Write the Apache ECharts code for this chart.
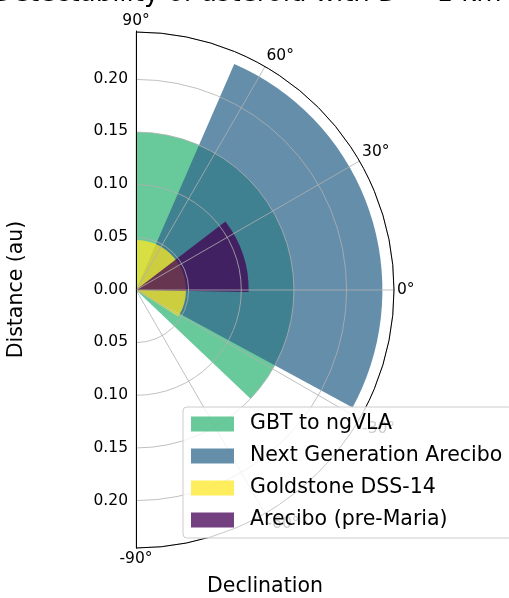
<!DOCTYPE html>
<html>
<head>
<meta charset="utf-8">
<script src="https://cdn.jsdelivr.net/npm/echarts@6/dist/echarts.min.js"></script>
<style>
  html, body { margin: 0; padding: 0; background: #fff; }
  #main { width: 509px; height: 598px; }
</style>
</head>
<body>
<div id="main"></div>
<script>
// telescopes, in the order they are drawn (later ones on top)
const names = ['GBT to ngVLA', 'Next Generation Arecibo', 'Goldstone DSS-14', 'Arecibo (pre-Maria)']
// detection distance for D ~ 1 km (au)
const reachAu = [0.150, 0.234, 0.0475, 0.107]
// declination coverage (deg)
const decMin = [-43.5, -28.5, -32, -1]
const decMax = [90, 66.5, 90, 37.5]

const rMax = 0.245
const decTicks = [-90, 90]

const palette = ['#35b779', '#31688e', '#fde725', '#440154']
const font = 'DejaVu Sans'

// 扇形：半径 0 → reach，角度 decMin → decMax
function wedge (params, api) {
  let a = api.coord([api.value(0), api.value(1)])
  let b = api.coord([api.value(0), api.value(2)])
  let cs = params.coordSys
  return {
    type: 'sector',
    shape: {
      cx: cs.cx, cy: cs.cy, r0: 0, r: a[2],
      startAngle: -b[3], endAngle: -a[3], clockwise: true
    },
    style: api.style()
  }
}

let series = names.map((n, i) => ({
  name: n,
  type: 'custom',
  coordinateSystem: 'polar',
  renderItem: wedge,
  dimensions: ['r', 'lo', 'hi'],
  encode: { radius: 0, angle: [1, 2] },
  itemStyle: { color: palette[i], opacity: 0.75 },
  data: [[reachAu[i], decMin[i], decMax[i]]]
}))

let myChart = echarts.init(document.getElementById('main'))
myChart.setOption({
  animation: false,
  textStyle: { fontFamily: font },
  title: {
    text: 'Detectability of asteroid with D = 1 km',
    left: -12, top: -24,
    textStyle: { fontFamily: font, fontSize: 26, fontWeight: 'normal', color: '#000' }
  },
  legend: {
    orient: 'vertical',
    left: 183, top: 407,
    padding: [6, 10, 7, 8],
    itemWidth: 43, itemHeight: 15, itemGap: 10,
    icon: 'rect',
    backgroundColor: 'rgba(255,255,255,0.8)',
    borderColor: '#cccccc', borderWidth: 1, borderRadius: 4,
    z: 10,
    textStyle: { fontFamily: font, fontSize: 20.5, lineHeight: 22, color: '#000', padding: [0, 0, 0, 11] },
    data: names
  },
  polar: { center: [136, 290], radius: [0, 258] },
  angleAxis: {
    type: 'value', min: decTicks[0], max: decTicks[1], interval: 30,
    startAngle: -90, endAngle: 90, clockwise: false,
    z: 4,
    axisLine: { lineStyle: { color: '#000', width: 1 } },
    axisTick: { show: false },
    axisLabel: { margin: 3, fontSize: 15.5, color: '#000', fontFamily: font, hideOverlap: false, formatter: v => v + '°' },
    splitLine: { lineStyle: { color: '#b0b0b0', width: 0.8 } }
  },
  radiusAxis: {
    type: 'value', min: 0, max: rMax, interval: 0.05,
    z: 3,
    axisLine: { show: false },
    axisTick: { show: false },
    axisLabel: { show: false },
    splitLine: { lineStyle: { color: '#b0b0b0', width: 0.8 } }
  },
  grid: { left: 136, top: 31, width: 258, height: 517, containLabel: false, outerBoundsMode: 'none' },
  xAxis: {
    type: 'value', min: -1, max: 1,
    name: 'Declination', nameLocation: 'middle', nameGap: 28,
    nameTextStyle: { fontFamily: font, fontSize: 20.5, color: '#000' },
    axisLine: { show: false }, axisTick: { show: false },
    axisLabel: { show: false }, splitLine: { show: false }
  },
  yAxis: {
    type: 'value', min: -rMax, max: rMax, splitNumber: 10,
    name: 'Distance (au)', nameLocation: 'middle', nameGap: 109, nameRotate: 90,
    nameTextStyle: { fontFamily: font, fontSize: 20.5, color: '#000' },
    z: 4,
    axisLine: { show: true, onZero: false, lineStyle: { color: '#000', width: 1 } },
    axisTick: { show: false },
    splitLine: { show: false },
    axisLabel: {
      margin: 8, fontSize: 15.5, color: '#000', fontFamily: font,
      showMinLabel: false, showMaxLabel: false,
      formatter: v => Math.abs(v).toFixed(2)
    }
  },
  series: series
})
</script>
</body>
</html>
